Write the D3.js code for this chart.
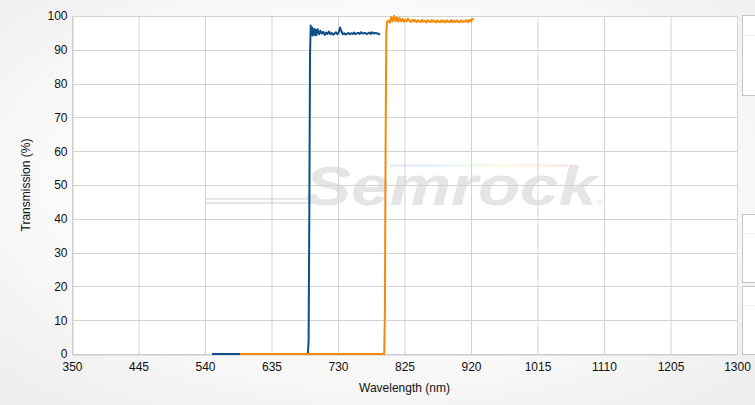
<!DOCTYPE html>
<html><head><meta charset="utf-8">
<script src="https://cdn.jsdelivr.net/npm/d3@7"></script>
<style>html,body{margin:0;padding:0;background:#fff;}svg{display:block;font-family:Arial,"Liberation Sans",sans-serif;}</style>
</head><body>
<svg id="c" width="755" height="405"></svg>
<script>
const xTicks = [350,445,540,635,730,825,920,1015,1110,1205,1300];
const yTicks = [0,10,20,30,40,50,60,70,80,90,100];

const blueWl = [550,600,650,687,688,689,690,691,692,693,694,695,696,697,698,699,700,701,703,705,707,709,711,713,715,717,719,721,723,725,727,729,731,733,735,737,739,741,743,745,747,749,751,753,755,757,759,761,763,765,767,769,771,773,775,777,779,781,783,785,787,789,790];
const blueT  = [0,0,0,0,4,40,88,97.2,94.5,96.6,94.2,95.8,96.2,94.4,95.9,94.3,95.2,96.1,94.6,95.6,94.8,95.3,94.4,95.1,94.7,95.4,94.6,95.0,94.5,94.8,95.2,94.6,95.1,96.6,95.4,94.6,94.9,94.5,94.8,95.0,94.6,94.9,94.7,95.1,94.6,94.9,95.0,94.7,95.2,94.8,94.9,95.0,94.6,94.9,95.1,94.7,95.2,94.8,95.0,94.9,94.8,94.6,94.5];

const orangeWl = [590,650,700,750,796,797,798,799,800,802,804,806,808,810,812,814,816,818,820,822,824,826,828,830,832,834,836,838,840,842,844,846,848,850,852,854,856,858,860,862,864,866,868,870,872,874,876,878,880,882,884,886,888,890,892,894,896,898,900,902,904,906,908,910,912,914,916,918,920,922,924];
const orangeT  = [0,0,0,0,0,12,62,95,98.2,98.6,98.0,99.7,98.4,100,98.5,99.6,98.3,99.4,98.5,99.1,98.3,98.9,98.4,99.2,98.6,98.2,98.9,98.4,98.8,98.2,98.7,98.4,98.2,98.9,98.3,98.6,98.1,98.8,98.4,98.2,98.8,98.3,98.6,98.1,98.7,98.3,98.2,98.8,98.2,98.6,98.1,98.7,98.3,98.2,98.8,98.2,98.6,98.2,98.7,98.3,98.1,98.7,98.2,98.6,98.3,98.8,98.2,98.9,98.4,99.1,99.2];

const svg = d3.select("#c");
const W = 755, H = 405;
const m = {l:72, r:18, t:16, b:51};
const x = d3.scaleLinear().domain([350,1300]).range([m.l, W - m.r]);
const y = d3.scaleLinear().domain([0,100]).range([H - m.b, m.t]);

// background
const defs = svg.append("defs");
const rg = defs.append("radialGradient").attr("id","bg").attr("cx","50%").attr("cy","45%").attr("r","75%");
rg.append("stop").attr("offset","0%").attr("stop-color","#ffffff");
rg.append("stop").attr("offset","60%").attr("stop-color","#f9f9f9");
rg.append("stop").attr("offset","100%").attr("stop-color","#ececec");
svg.append("rect").attr("width",W).attr("height",H).attr("fill","url(#bg)");
const rb = defs.append("linearGradient").attr("id","rainbow").attr("x1","0").attr("x2","1").attr("y1","0").attr("y2","0");
[["0%","#ececff"],["30%","#eaf5ff"],["50%","#f0fbea"],["70%","#fff9e6"],["100%","#ffeaea"]].forEach(s=>rb.append("stop").attr("offset",s[0]).attr("stop-color",s[1]));

// plot area
svg.append("rect").attr("x",x(350)).attr("y",y(100)).attr("width",x(1300)-x(350)).attr("height",y(0)-y(100)).attr("fill","#ffffff");

// watermark
const wm = svg.append("g");
wm.append("rect").attr("x",390).attr("y",164).attr("width",178).attr("height",3).attr("fill","url(#rainbow)");
wm.append("rect").attr("x",205).attr("y",198).attr("width",112).attr("height",2).attr("fill","#e6e6e6");
wm.append("rect").attr("x",205).attr("y",202).attr("width",112).attr("height",2).attr("fill","#e6e6e6");
wm.append("text").attr("x",305).attr("y",205).attr("font-size",56).attr("font-weight","bold").attr("font-style","italic")
  .attr("textLength",292).attr("lengthAdjust","spacingAndGlyphs")
  .attr("fill","#e5e5e5").text("Semrock");
wm.append("text").attr("x",596).attr("y",206).attr("font-size",9).attr("fill","#e3e3e3").text("®");

// grid
const g = svg.append("g");
g.selectAll(".vg").data(xTicks).enter().append("line")
  .attr("x1",d=>x(d)+0.5).attr("x2",d=>x(d)+0.5).attr("y1",y(100)).attr("y2",y(0))
  .attr("stroke","#d3d3d3").attr("stroke-width",1);
g.selectAll(".hg").data(yTicks).enter().append("line")
  .attr("x1",x(350)).attr("x2",x(1300)).attr("y1",d=>Math.round(y(d))+0.5).attr("y2",d=>Math.round(y(d))+0.5)
  .attr("stroke","#d3d3d3").attr("stroke-width",1);

// axes
const xa = svg.append("g").attr("transform",`translate(0,${Math.round(y(0))+0.5})`)
  .call(d3.axisBottom(x).tickValues(xTicks).tickSize(0).tickPadding(8).tickFormat(d3.format("d")));
const ya = svg.append("g").attr("transform",`translate(${x(350)+0.5},0)`)
  .call(d3.axisLeft(y).tickValues(yTicks).tickSize(0).tickPadding(5).tickFormat(d3.format("d")));
[xa,ya].forEach(a=>{
  a.select(".domain").attr("stroke","#c8c8c8");
  a.selectAll("text").attr("font-size",12).attr("fill","#111").attr("font-family","Arial,'Liberation Sans',sans-serif");
});

// lines
const line = d3.line().x(d=>x(d[0])).y(d=>y(d[1]));
svg.append("path").datum(blueWl.map((w,i)=>[w,blueT[i]])).attr("d",line)
  .attr("fill","none").attr("stroke","#0e4f85").attr("stroke-width",2).attr("stroke-linejoin","round");
svg.append("path").datum(orangeWl.map((w,i)=>[w,orangeT[i]])).attr("d",line)
  .attr("fill","none").attr("stroke","#f58a07").attr("stroke-width",2).attr("stroke-linejoin","round");

// axis titles
svg.append("text").attr("x",(x(350)+x(1300))/2).attr("y",392).attr("text-anchor","middle")
  .attr("font-size",12).attr("fill","#111").text("Wavelength (nm)");
svg.append("text").attr("transform",`translate(30,${(y(0)+y(100))/2}) rotate(-90)`).attr("text-anchor","middle")
  .attr("font-size",12).attr("fill","#111").text("Transmission (%)");

// right-side panels (cut off)
const panels = [[15,95,35],[214,282,233],[286,354,305]];
panels.forEach(p=>{
  svg.append("rect").attr("x",742.5).attr("y",p[0]+0.5).attr("width",30).attr("height",p[1]-p[0])
    .attr("fill","#ffffff").attr("stroke","#c4c4c4");
  svg.append("line").attr("x1",743).attr("x2",755).attr("y1",p[2]+0.5).attr("y2",p[2]+0.5).attr("stroke","#eeeeee");
});
</script>
</body></html>
